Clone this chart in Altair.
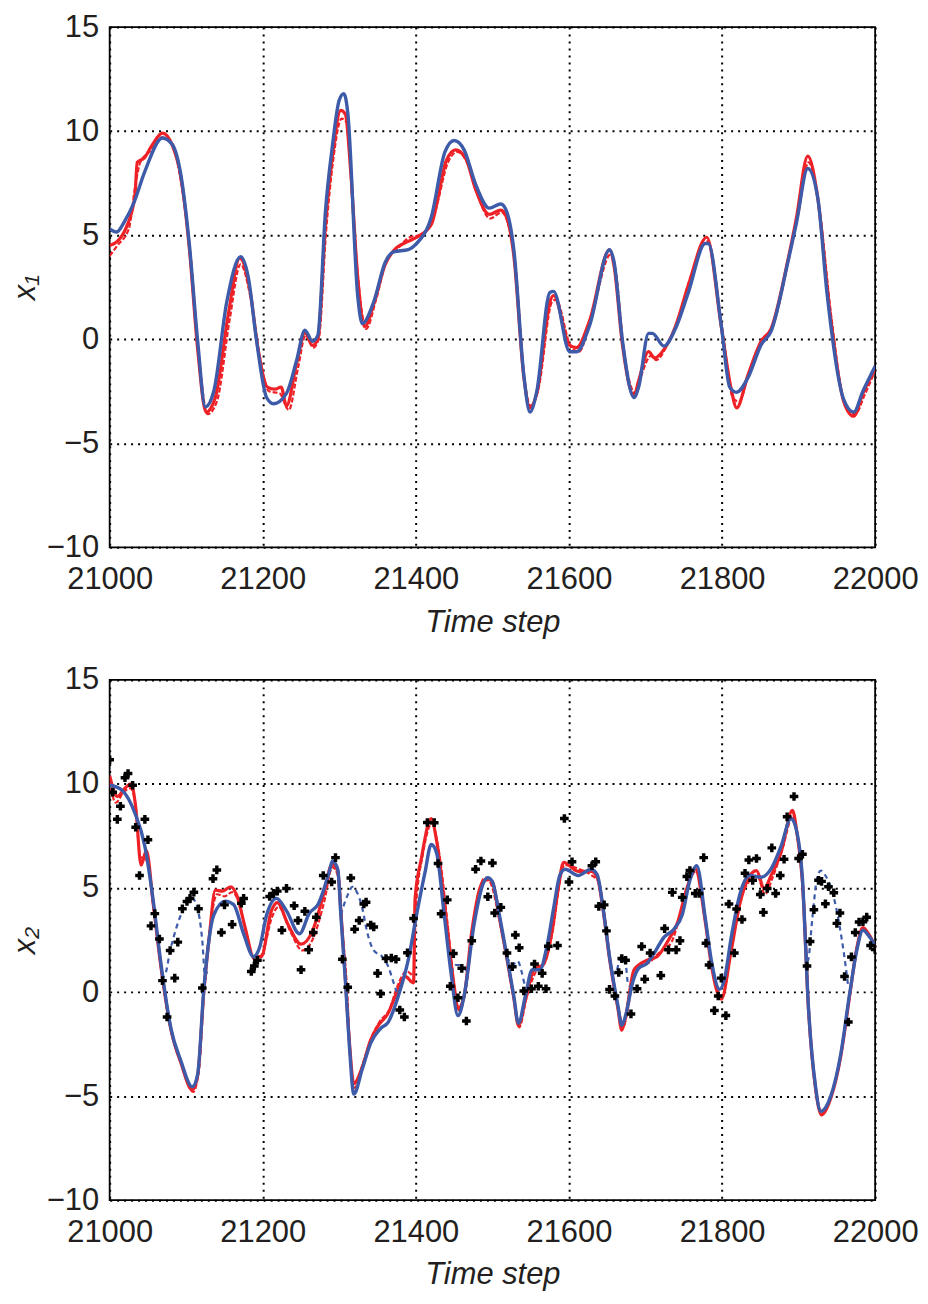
import altair as alt
import pandas as pd

# ---------------- top panel (x1) ----------------
top_blue_t = [21000, 21009, 21020, 21031, 21046, 21069, 21082, 21093, 21104, 21115, 21125, 21136, 21153, 21171,
              21181, 21192, 21205, 21214, 21231, 21244, 21255, 21265, 21272, 21282, 21291, 21300, 21306, 21311,
              21324, 21330, 21345, 21360, 21371, 21390, 21401, 21420, 21438, 21450, 21463, 21478, 21496, 21511,
              21519, 21528, 21541, 21549, 21558, 21575, 21580, 21601, 21610, 21627, 21653, 21659, 21670, 21685,
              21691, 21704, 21709, 21724, 21739, 21756, 21778, 21782, 21799, 21810, 21819, 21834, 21851, 21864,
              21886, 21897, 21912, 21925, 21937, 21959, 21972, 21984, 22000]
top_blue_v = [5.3, 5.15, 5.7, 6.5, 8.07, 9.67, 9.34, 7.9, 4.6, -0.1, -3.25, -2.5, 1.8, 3.97,
              3.0, -0.1, -2.8, -3.1, -2.6, -1.05, 0.43, -0.1, 0.2, 6.2, 9.3, 11.5, 11.8, 10.9,
              2.1, 0.75, 1.8, 3.7, 4.2, 4.3, 4.6, 5.85, 9.0, 9.55, 9.1, 7.45, 6.3, 6.5,
              6.1, 4.3, -1.7, -3.5, -2.5, 2.25, 2.3, -0.6, -0.6, 0.66, 4.3, 3.7, -0.1, -2.8,
              -2.3, 0.28, 0.28, -0.33, 0.5, 2.25, 4.6, 4.6, 0.66, -2.3, -2.55, -1.84, -0.27, 0.38,
              3.7, 5.55, 8.2, 6.8, 2.25, -2.9, -3.5, -2.5, -1.3]

top_red_t = [21000, 21010, 21022, 21033, 21036, 21045, 21055, 21069, 21082, 21093, 21104, 21115, 21126, 21138,
             21155, 21170, 21183, 21194, 21206, 21216, 21224, 21231, 21244, 21255, 21265, 21272, 21282, 21291,
             21302, 21308, 21315, 21324, 21333, 21345, 21360, 21372, 21390, 21401, 21420, 21440, 21452, 21465,
             21478, 21496, 21511, 21519, 21528, 21541, 21549, 21558, 21576, 21580, 21601, 21610, 21627, 21653,
             21659, 21670, 21685, 21691, 21704, 21712, 21724, 21739, 21756, 21780, 21799, 21812, 21819, 21834,
             21851, 21864, 21886, 21897, 21912, 21925, 21940, 21959, 21972, 21984, 22000]
top_red_v = [4.5, 4.7, 5.4, 6.9, 8.5, 8.7, 9.3, 9.9, 9.3, 7.8, 4.4, -0.5, -3.5, -2.8,
             1.2, 3.9, 2.4, -0.5, -2.3, -2.4, -2.3, -3.2, -1.2, 0.3, -0.3, 0.0, 5.6, 8.8,
             11.0, 10.8, 8.0, 3.0, 0.6, 1.7, 3.6, 4.3, 4.7, 4.9, 5.5, 8.6, 9.1, 8.7,
             7.2, 6.0, 6.2, 5.8, 4.0, -1.8, -3.3, -2.6, 1.9, 2.1, -0.3, -0.4, 0.9, 4.3,
             3.5, -0.3, -2.7, -2.0, -0.6, -0.9, -0.5, 0.6, 2.6, 4.9, 0.6, -2.4, -3.3, -1.7,
             -0.1, 0.5, 3.8, 5.8, 8.8, 6.8, 1.6, -3.0, -3.7, -2.6, -1.4]

top_red2_t = [21000, 21010, 21025, 21034, 21040, 21055, 21068, 21082, 21093, 21106, 21117, 21128, 21140, 21157,
              21171, 21184, 21196, 21208, 21222, 21234, 21246, 21256, 21266, 21273, 21283, 21292, 21303, 21310,
              21318, 21326, 21335, 21348, 21362, 21375, 21392, 21405, 21424, 21442, 21454, 21468, 21480, 21497,
              21512, 21520, 21530, 21542, 21550, 21560, 21578, 21583, 21603, 21613, 21630, 21655, 21661, 21672,
              21687, 21694, 21707, 21714, 21728, 21742, 21758, 21781, 21801, 21814, 21822, 21836, 21853, 21866,
              21888, 21899, 21913, 21927, 21943, 21961, 21974, 21986, 22000]
top_red2_v = [4.0, 4.5, 5.3, 7.5, 8.5, 9.1, 9.7, 9.4, 7.6, 3.9, -1.0, -3.6, -3.0, 1.0,
              3.6, 2.0, -0.8, -2.5, -2.6, -3.4, -1.4, 0.2, -0.4, 0.0, 5.3, 8.6, 10.6, 10.4,
              6.0, 2.4, 0.5, 1.9, 3.8, 4.3, 4.9, 5.0, 6.0, 8.5, 9.0, 8.4, 7.0, 5.8,
              6.1, 5.6, 3.6, -2.0, -3.2, -2.4, 1.8, 1.9, -0.4, -0.6, 1.2, 4.1, 3.3, -0.6,
              -2.6, -1.8, -0.8, -1.0, -0.3, 0.9, 2.9, 4.7, 0.3, -2.8, -3.0, -1.5, 0.0, 0.6,
              4.0, 5.9, 8.5, 6.3, 1.0, -3.2, -3.6, -2.7, -1.5]

# ---------------- bottom panel (x2) ----------------
bot_blue_t = [21000, 21016, 21033, 21046, 21057, 21067, 21080, 21093, 21108, 21115, 21123, 21136, 21151, 21162,
              21175, 21188, 21196, 21205, 21218, 21231, 21248, 21261, 21272, 21287, 21291, 21298, 21302, 21308,
              21313, 21319, 21330, 21341, 21354, 21364, 21377, 21390, 21401, 21412, 21420, 21427, 21437, 21446,
              21455, 21463, 21476, 21489, 21494, 21500, 21509, 21519, 21528, 21534, 21543, 21552, 21562, 21571,
              21580, 21588, 21595, 21612, 21629, 21637, 21644, 21653, 21664, 21669, 21674, 21683, 21691, 21702,
              21711, 21724, 21737, 21748, 21758, 21767, 21778, 21786, 21797, 21803, 21812, 21823, 21836, 21851,
              21864, 21877, 21890, 21896, 21905, 21913, 21922, 21929, 21942, 21955, 21967, 21976, 21984, 21993,
              22000]
bot_blue_v = [9.95, 9.7, 8.6, 7.0, 4.37, 1.36, -1.74, -3.3, -4.55, -3.94, 0.14, 3.7, 4.37, 4.2,
              2.8, 1.7, 2.16, 3.7, 4.5, 3.9, 2.8, 3.8, 4.2, 5.8, 6.3, 5.9, 3.7, 0.5,
              -2.5, -4.9, -3.7, -2.45, -1.75, -1.44, -0.2, 1.53, 3.72, 5.76, 7.09, 6.7, 3.72, 0.9,
              -1.13, -0.2, 3.25, 5.3, 5.5, 5.3, 3.72, 1.7, -0.2, -1.5, -0.2, 1.07, 1.07, 2.16,
              4.04, 5.6, 5.9, 5.6, 5.9, 5.63, 4.2, 1.7, -0.66, -1.6, -1.13, 0.44, 1.14, 1.38,
              1.85, 2.63, 3.02, 3.72, 5.37, 6.07, 3.57, 1.53, 0.13, 0.6, 2.63, 4.66, 5.6, 5.52,
              5.92, 7.0, 8.34, 7.95, 5.45, -0.8, -4.5, -5.73, -5.0, -3.0, 0.0, 2.0, 2.97, 2.63,
              2.24]

bot_red_t = [21000, 21010, 21020, 21028, 21034, 21041, 21048, 21057, 21067, 21080, 21093, 21108, 21115, 21123,
             21130, 21138, 21147, 21158, 21166, 21177, 21188, 21198, 21211, 21219, 21233, 21250, 21265, 21278,
             21291, 21298, 21302, 21308, 21313, 21319, 21330, 21341, 21351, 21364, 21373, 21386, 21397, 21399,
             21407, 21420, 21427, 21440, 21450, 21455, 21463, 21473, 21489, 21496, 21500, 21509, 21519, 21528,
             21534, 21543, 21555, 21566, 21578, 21586, 21593, 21612, 21629, 21637, 21644, 21653, 21664, 21669,
             21674, 21685, 21702, 21715, 21732, 21741, 21754, 21765, 21778, 21786, 21799, 21812, 21823, 21834,
             21845, 21855, 21864, 21877, 21892, 21898, 21905, 21913, 21922, 21930, 21942, 21955, 21967, 21976,
             21984, 21993, 22000]
bot_red_v = [10.4, 9.4, 9.8, 10.0, 8.9, 6.1, 6.8, 4.2, 1.2, -1.8, -3.4, -4.7, -4.0, 0.0,
             2.6, 4.9, 4.85, 5.06, 4.66, 3.1, 1.7, 1.7, 3.88, 4.3, 3.25, 2.3, 2.94, 4.5,
             6.15, 5.8, 3.9, 0.6, -2.3, -4.4, -3.6, -2.3, -1.6, -1.0, -0.2, 0.75, 0.44, 4.5,
             6.38, 8.34, 7.3, 3.4, 0.3, -0.8, -0.2, 2.9, 5.37, 5.4, 5.3, 3.6, 1.6, -0.3,
             -1.6, -0.4, 1.14, 1.3, 2.94, 4.98, 6.23, 5.8, 5.8, 5.5, 4.1, 1.6, -0.8, -1.83,
             -1.2, 1.07, 1.53, 1.7, 2.63, 3.25, 4.98, 5.92, 3.4, 1.3, -0.34, 2.0, 4.2, 5.45,
             5.84, 4.98, 5.6, 6.7, 8.73, 7.6, 5.3, -0.9, -4.6, -5.9, -5.1, -3.1, -0.1, 2.1,
             3.1, 2.7, 2.2]

bot_red2_t = [21000, 21008, 21018, 21027, 21033, 21040, 21047, 21058, 21068, 21081, 21094, 21109, 21117, 21124,
              21131, 21140, 21150, 21160, 21168, 21178, 21190, 21200, 21212, 21221, 21235, 21252, 21266, 21280,
              21291, 21299, 21304, 21310, 21314, 21320, 21331, 21343, 21353, 21366, 21375, 21388, 21397, 21400,
              21409, 21421, 21429, 21442, 21451, 21457, 21465, 21475, 21490, 21498, 21510, 21520, 21529, 21535,
              21545, 21557, 21568, 21580, 21588, 21594, 21614, 21630, 21639, 21646, 21655, 21666, 21671, 21676,
              21687, 21704, 21718, 21734, 21743, 21756, 21766, 21780, 21788, 21800, 21813, 21824, 21835, 21846,
              21856, 21866, 21879, 21893, 21899, 21906, 21914, 21923, 21931, 21943, 21956, 21968, 21977, 21985,
              21994, 22000]
bot_red2_v = [10.1, 9.1, 9.6, 9.8, 9.2, 6.5, 6.4, 3.9, 0.9, -2.0, -3.5, -4.8, -3.6, 0.6,
              3.0, 4.7, 4.6, 4.8, 4.4, 2.9, 1.5, 1.9, 3.6, 4.1, 3.0, 2.0, 2.6, 4.3,
              6.0, 5.5, 3.0, 0.2, -2.8, -4.6, -3.4, -2.1, -1.4, -0.8, 0.2, 1.0, 0.8, 4.0,
              6.6, 8.1, 7.0, 3.1, 0.0, -0.9, 0.1, 3.1, 5.5, 5.2, 3.3, 1.4, -0.5, -1.7,
              -0.2, 1.0, 1.4, 3.2, 5.3, 6.1, 5.9, 5.6, 5.3, 3.8, 1.3, -1.0, -1.7, -1.0,
              1.2, 1.4, 1.9, 2.4, 3.4, 5.2, 5.8, 3.1, 1.0, -0.2, 2.3, 4.4, 5.3, 5.6,
              4.7, 5.5, 6.9, 8.5, 7.3, 5.0, -1.2, -4.8, -5.8, -4.9, -2.8, 0.3, 2.3, 3.0,
              2.6, 2.1]

# dashed blue branches (segment id, time, value)
dash_seg = [1, 1, 1, 1, 1, 1, 1, 1, 1,
            2, 2, 2, 2, 2, 2, 2, 2, 2, 2, 2, 2,
            3, 3, 3, 3, 3,
            4, 4, 4, 4, 4, 4,
            5, 5, 5, 5, 5, 5, 5,
            6, 6, 6, 6, 6, 6, 6, 6, 6, 6, 6]
dash_t = [21067, 21071, 21080, 21095, 21107, 21114, 21121, 21125, 21127,
          21302, 21308, 21313, 21317, 21323, 21330, 21336, 21345, 21356, 21364, 21371, 21376,
          21446, 21452, 21458, 21465, 21470,
          21519, 21526, 21533, 21538, 21542, 21545,
          21655, 21661, 21666, 21670, 21674, 21677, 21682,
          21909, 21912, 21918, 21924, 21929, 21935, 21944, 21950, 21956, 21961, 21965]
dash_v = [1.36, 0.75, 2.16, 3.88, 4.54, 4.12, 2.47, 0.6, 1.0,
          3.7, 4.4, 4.82, 5.06, 4.8, 4.04, 2.94, 2.0, 1.7, 1.22, 0.44, -0.1,
          0.9, 1.3, 1.3, 1.07, 0.9,
          1.7, 1.3, 1.5, 1.0, 0.4, 0.2,
          1.0, 0.9, 1.53, 1.7, 1.4, 0.44, 0.2,
          2.4, 1.5, 3.57, 5.45, 5.84, 5.6, 4.82, 3.88, 2.63, 1.38, 0.2]

# observations (black crosses)
obs_t = [21000, 21004, 21010, 21014, 21020, 21024, 21030, 21034, 21039, 21046, 21050, 21054, 21059, 21065,
         21069, 21075, 21079, 21085, 21089, 21095, 21101, 21105, 21110, 21116, 21121, 21135, 21140, 21146,
         21150, 21160, 21172, 21175, 21185, 21189, 21193, 21209, 21214, 21219, 21225, 21231, 21241, 21246,
         21250, 21255, 21260, 21266, 21270, 21279, 21290, 21295, 21304, 21311, 21315, 21320, 21326, 21332,
         21335, 21341, 21345, 21350, 21354, 21361, 21368, 21374, 21379, 21385, 21389, 21397, 21415, 21424,
         21429, 21433, 21441, 21445, 21449, 21455, 21460, 21466, 21473, 21478, 21485, 21494, 21500, 21503,
         21511, 21519, 21526, 21530, 21535, 21541, 21551, 21555, 21560, 21565, 21570, 21573, 21585, 21594,
         21600, 21604, 21630, 21635, 21639, 21646, 21649, 21653, 21660, 21665, 21669, 21674, 21681, 21689,
         21695, 21699, 21706, 21720, 21725, 21730, 21735, 21740, 21745, 21748, 21754, 21758, 21765, 21770,
         21776, 21779, 21783, 21790, 21795, 21799, 21805, 21809, 21816, 21819, 21826, 21830, 21835, 21840,
         21845, 21850, 21854, 21859, 21865, 21870, 21876, 21881, 21885, 21894, 21900, 21905, 21911, 21915,
         21920, 21926, 21930, 21935, 21939, 21946, 21950, 21954, 21960, 21965, 21969, 21974, 21979, 21984,
         21989, 21994, 22000]
obs_v = [11.16, 9.6, 8.3, 8.93, 10.3, 10.5, 9.94, 7.92, 5.6, 8.3, 7.32, 3.18, 3.77, 2.55,
         0.55, -1.2, 2.0, 0.67, 2.4, 4.0, 4.35, 4.5, 4.8, 4.0, 0.2, 5.45, 5.87, 2.86,
         4.19, 3.25, 4.27, 4.5, 0.99, 1.25, 1.53, 4.59, 4.74, 4.85, 2.97, 4.98, 4.15, 3.44,
         1.07, 3.88, 2.03, 2.86, 3.6, 5.6, 5.29, 6.46, 1.58, 0.23, 5.48, 3.02, 3.44, 4.23,
         4.32, 3.22, 3.13, 0.9, -0.08, 1.61, 1.64, 1.58, -0.86, -1.2, 1.89, 3.54, 8.15, 8.14,
         6.18, 3.76, 4.43, 0.28, 1.85, -0.27, 1.14, -1.39, 2.47, 5.9, 6.3, 4.58, 6.2, 3.8,
         4.07, 1.88, 1.22, 2.74, 2.13, 0.05, 0.16, 1.35, 0.28, 0.9, 0.16, 2.2, 2.24, 8.34,
         5.29, 6.26, 6.07, 6.26, 4.12, 4.19, 2.94, 0.13, -0.19, 0.94, 1.61, 1.53, -1.05, 0.16,
         2.19, 0.62, 1.88, 0.8, 3.05, 2.03, 4.79, 2.03, 2.47, 4.55, 5.55, 5.84, 4.74, 4.74,
         6.46, 2.35, 1.3, -0.89, -0.19, 0.67, -1.13, 4.23, 1.88, 3.99, 3.49, 5.71, 6.35, 5.37,
         6.42, 4.69, 3.83, 4.98, 6.93, 4.74, 5.6, 6.38, 8.42, 9.4, 6.42, 6.62, 1.25, 2.43,
         3.96, 5.37, 5.32, 4.24, 5.06, 4.77, 3.3, 3.8, 0.75, -1.44, 1.69, 2.86, 3.37, 3.38,
         3.6, 2.24, 2.05]

x_ticks = [21000, 21200, 21400, 21600, 21800, 22000]
y_ticks = [-10, -5, 0, 5, 10, 15]

RED = "#ee2127"
BLUE = "#3d5ba9"
W, H = 768, 522


def xenc():
    return alt.X("t:Q", scale=alt.Scale(domain=[21000, 22000], nice=False),
                 axis=alt.Axis(values=x_ticks, format="d", title="Time step"))


def yenc(title):
    return alt.Y("v:Q", scale=alt.Scale(domain=[-10, 15], nice=False),
                 axis=alt.Axis(values=y_ticks, title=title))


def panel(red_t, red_v, red2_t, red2_v, blue_t, blue_v, title, dashed=None, obs=None):
    layers = []
    d = pd.DataFrame({"t": red2_t, "v": red2_v})
    layers.append(alt.Chart(d).mark_line(color=RED, strokeWidth=2.2, strokeDash=[5, 2],
                                         interpolate="monotone", clip=True)
                  .encode(x=xenc(), y=yenc(title)))
    d = pd.DataFrame({"t": red_t, "v": red_v})
    layers.append(alt.Chart(d).mark_line(color=RED, strokeWidth=3.2, interpolate="monotone", clip=True)
                  .encode(x=xenc(), y=yenc(title)))
    if dashed is not None:
        d = pd.DataFrame({"seg": dashed[0], "t": dashed[1], "v": dashed[2]})
        layers.append(alt.Chart(d).mark_line(color=BLUE, strokeWidth=2.2, strokeDash=[5, 4],
                                             interpolate="monotone", clip=True)
                      .encode(x=xenc(), y=yenc(title), detail="seg:N"))
    d = pd.DataFrame({"t": blue_t, "v": blue_v})
    layers.append(alt.Chart(d).mark_line(color=BLUE, strokeWidth=3.4, interpolate="monotone", clip=True)
                  .encode(x=xenc(), y=yenc(title)))
    if obs is not None:
        d = pd.DataFrame({"t": obs[0], "v": obs[1]})
        layers.append(alt.Chart(d).mark_point(shape="cross", filled=True, color="black",
                                              size=75, opacity=1, clip=True)
                      .encode(x=xenc(), y=yenc(title)))
    return alt.layer(*layers).properties(width=W, height=H)


top = panel(top_red_t, top_red_v, top_red2_t, top_red2_v, top_blue_t, top_blue_v, "x₁")
bottom = panel(bot_red_t, bot_red_v, bot_red2_t, bot_red2_v, bot_blue_t, bot_blue_v, "x₂",
               dashed=(dash_seg, dash_t, dash_v), obs=(obs_t, obs_v))

chart = alt.vconcat(top, bottom, spacing=25).properties(padding=0).configure_view(
    stroke="black", strokeWidth=1.8
).configure_axis(
    grid=True, gridColor="black", gridDash=[2, 5], gridWidth=2, gridOpacity=1,
    domain=False, ticks=False, labelFlush=False,
    labelFont="Liberation Sans", labelFontSize=31, labelColor="#231f20",
    titleFont="Liberation Sans", titleFontSize=31, titleFontStyle="italic",
    titleFontWeight="normal", titleColor="#231f20"
).configure_axisX(
    titlePadding=13, labelPadding=17
).configure_axisY(
    titlePadding=5, labelPadding=11
)

chart.save("out.html", embed_options={"renderer": "svg", "actions": False})
